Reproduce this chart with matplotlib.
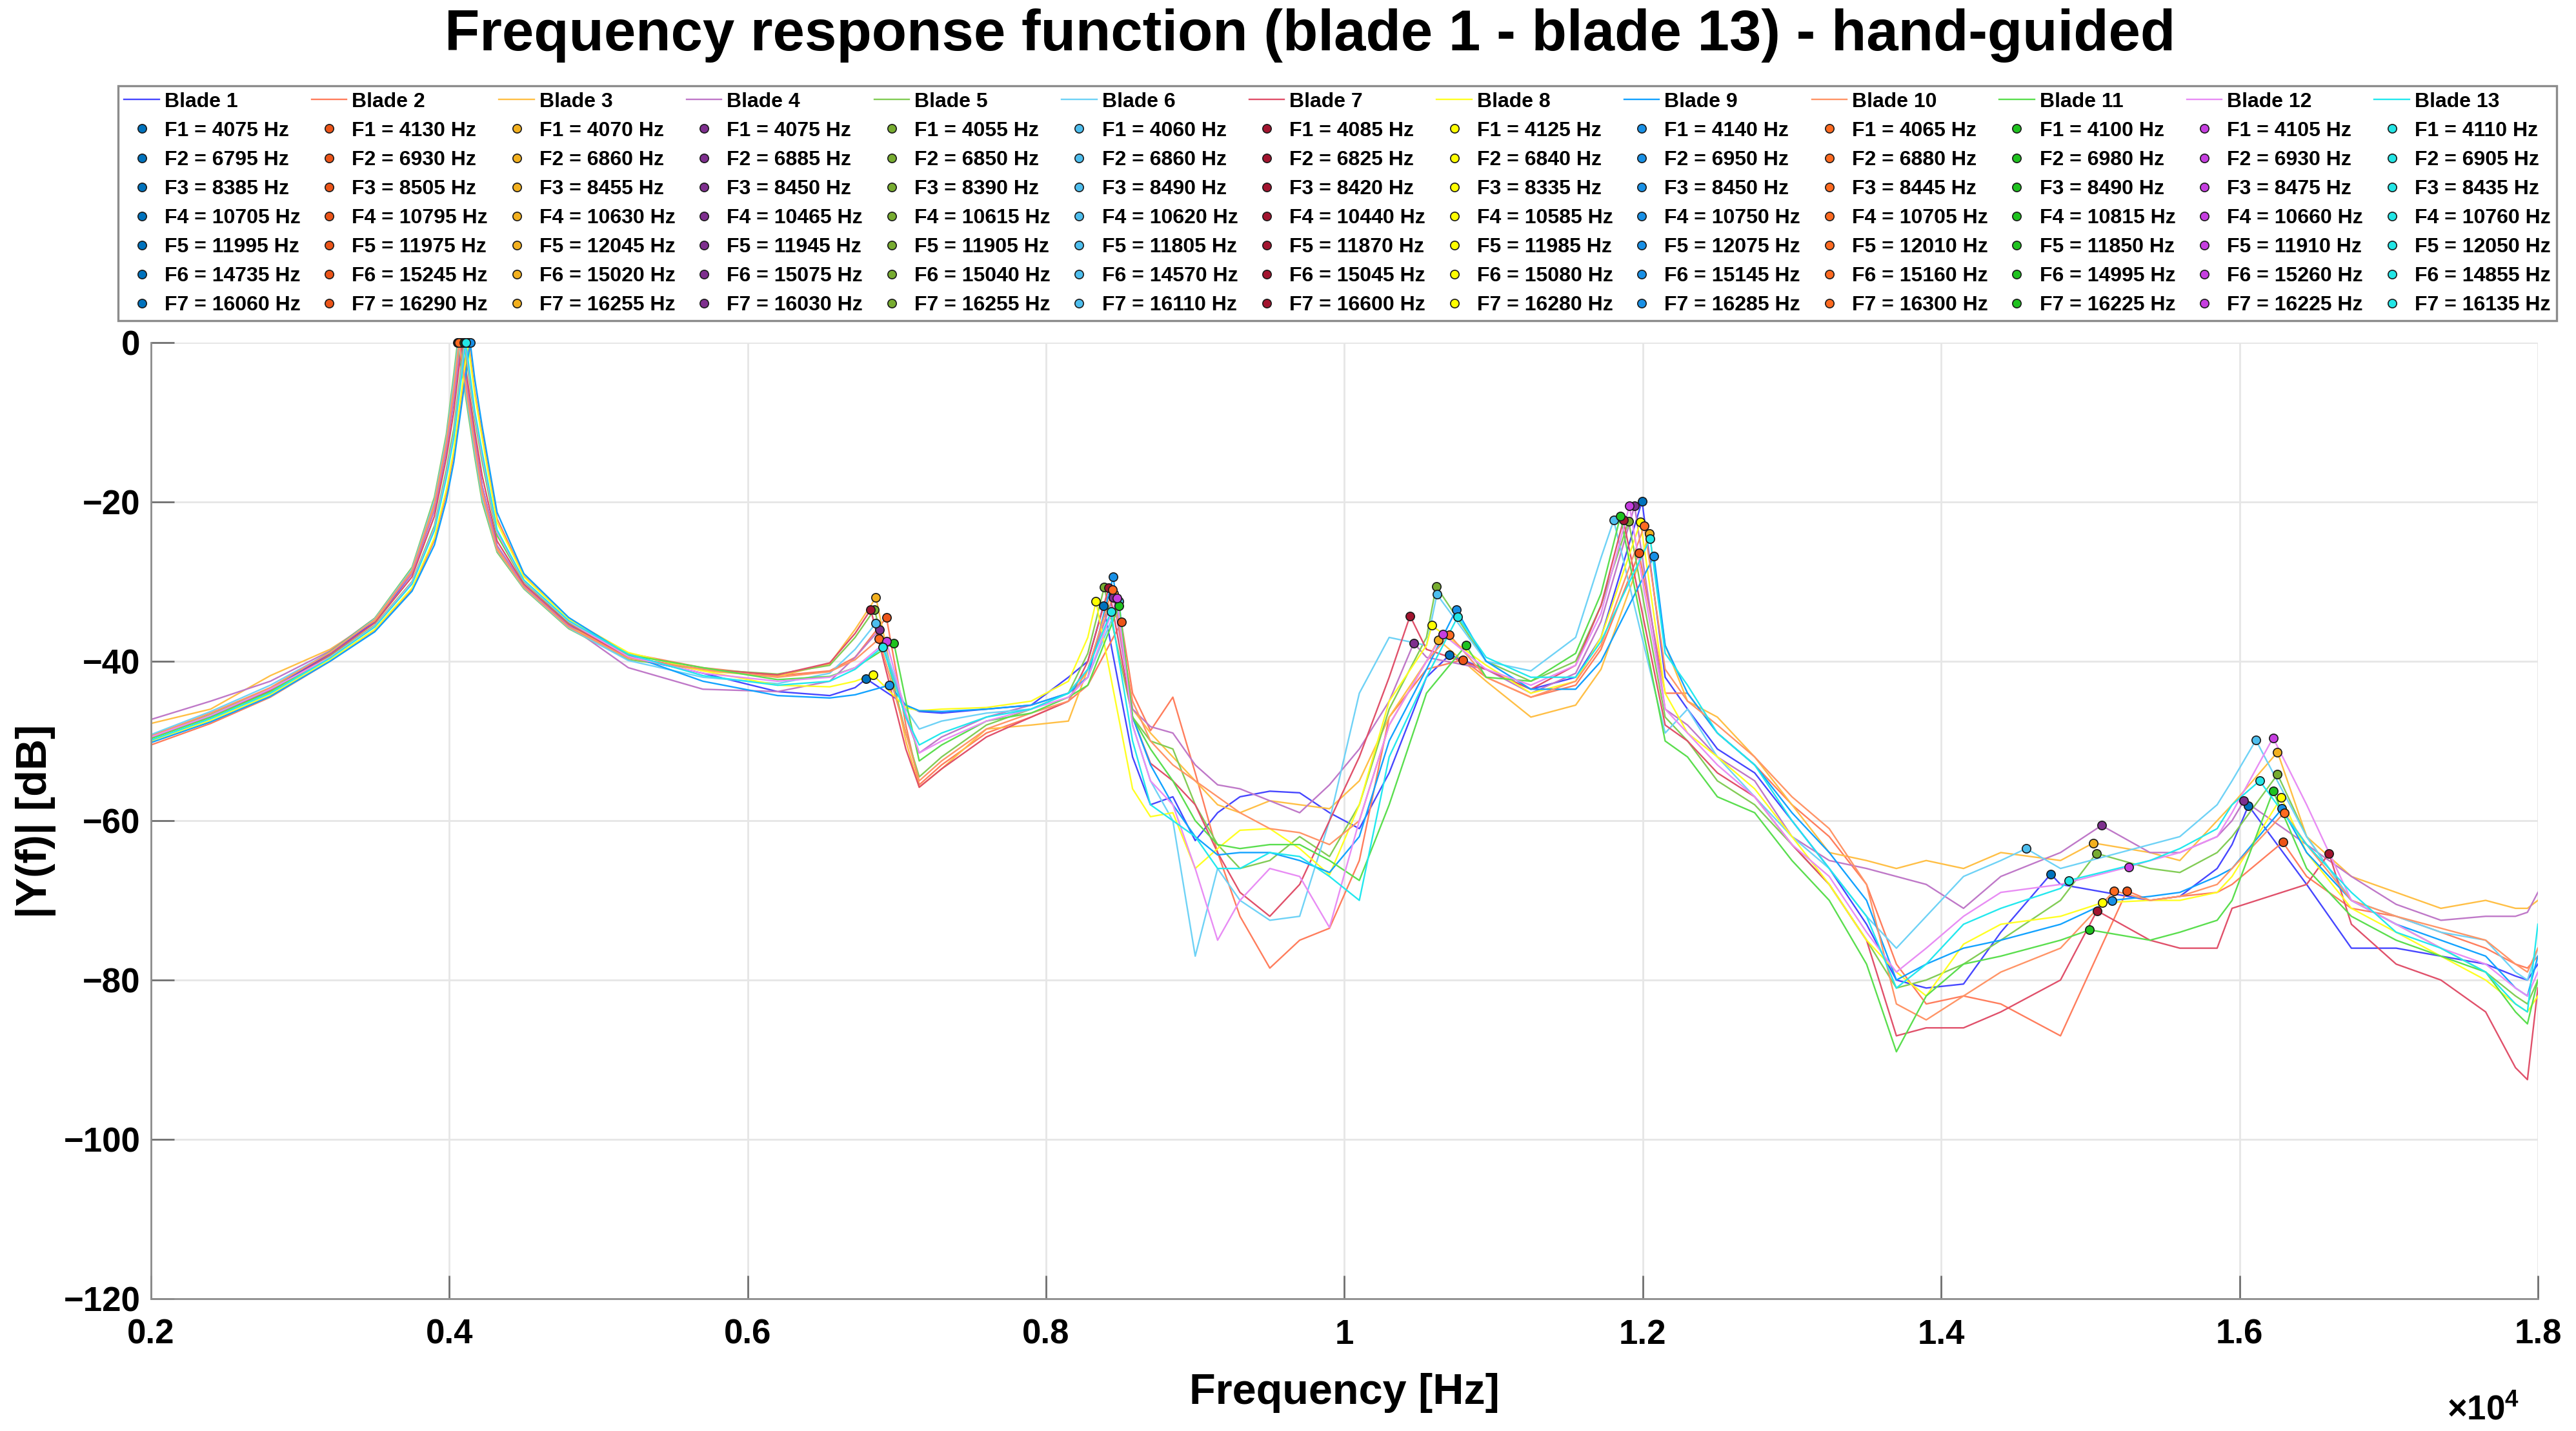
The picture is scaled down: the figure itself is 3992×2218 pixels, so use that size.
import matplotlib
matplotlib.use('Agg')
import matplotlib.pyplot as plt
from matplotlib.ticker import FuncFormatter

plt.rcParams['font.family'] = ['Liberation Sans', 'DejaVu Sans']
plt.rcParams['font.weight'] = 'bold'
plt.rcParams['mathtext.fontset'] = 'custom'
plt.rcParams['mathtext.rm'] = 'Liberation Sans'
plt.rcParams['mathtext.bf'] = 'Liberation Sans:bold'

# frequency points (Hz), shared by all blades
freq_grid = [2000, 2400, 2800, 3200, 3500, 3750, 3900, 3980, 4030,
             4170, 4220, 4320, 4500, 4800, 5200, 5700, 6200, 6550, 6720,
             7060, 7150, 7300, 7600, 7900, 8150, 8280,
             8580, 8700, 8850, 9000, 9150, 9300, 9500, 9700, 9900, 10100, 10300, 10550,
             10950, 11250, 11550, 11720,
             12150, 12300, 12500, 12750, 13000, 13250, 13500, 13700, 13900, 14150, 14400, 14800,
             15400, 15600, 15850, 15950,
             16450, 16750, 17050, 17350, 17650, 17850, 17930, 18000]

# |Y(f)| in dB at freq_grid
blade1_db = [-49.5, -46.8, -43.6, -39, -35, -29, -21, -13.5, -7.2,
             -12, -18, -25.5, -30.5, -35.5, -39.5, -41.5, -43.8, -44.3, -43.3,
             -45.5, -46.3, -46.5, -46, -45.5, -42, -40,
             -52, -58, -57, -62.5, -59, -57, -56.3, -56.5, -59, -61, -54, -42,
             -41, -43.5, -42, -37,
             -42, -46, -51, -54, -60, -66, -73, -80, -81, -80.5, -74, -68,
             -70, -69.5, -66, -63,
             -68, -76, -76, -77, -78, -79.5, -80, -78]
blade2_db = [-50.5, -47.8, -44.5, -40, -36.2, -31, -24.8, -19, -14,
             -6, -11.5, -22.1, -29.3, -34.6, -39, -40.8, -41.8, -41.2, -39.5,
             -48, -55.5, -53, -49, -47, -45, -43,
             -44, -48.7, -44.5, -54, -64, -72, -78.5, -75, -73.5, -65, -47, -41,
             -42, -44.5, -43, -38.5,
             -44, -44, -49, -53, -58, -62, -68, -78, -83, -82, -83, -87,
             -70, -69.5, -69, -68,
             -67, -71, -72, -74, -76, -78, -78.5, -77]
blade3_db = [-47.8, -46, -41.8, -38.5, -34.9, -28.8, -20.6, -13, -6.4,
             -12.5, -18.5, -25.8, -30.6, -35.6, -39.4, -41.2, -41.9, -40.3, -36,
             -50, -55.8, -53.5, -48.5, -48, -47.5, -41,
             -46, -49, -52, -55, -58, -59, -57.5, -58, -58.5, -55, -47, -40,
             -42.5, -47, -45.5, -41,
             -38, -45, -47, -52, -58, -64, -65, -66, -65, -66, -64, -65,
             -64, -65, -60, -58,
             -62, -67, -69, -71, -70, -71, -71, -70]
blade4_db = [-47.3, -45, -42.5, -38.7, -34.6, -29, -21, -13.5, -7.2,
             -12, -18, -25.5, -30.5, -35.5, -40.8, -43.5, -43.8, -42.5, -39.5,
             -47, -51.5, -49.5, -47, -45.5, -44, -41,
             -46, -48.2, -49, -53, -55.5, -56, -57.5, -59, -55.5, -51, -45, -39.5,
             -41, -44, -41.5, -35,
             -46, -48, -52, -55, -62, -65, -66, -67, -68, -71, -67, -64,
             -64, -64, -62, -60,
             -63, -67, -70.5, -72.5, -72, -72, -71.5, -69]
blade5_db = [-49.3, -46.7, -43.4, -38.8, -34.6, -28.2, -19.4, -11.5, -4,
             -14.3, -20, -26.3, -30.9, -35.9, -39.8, -41, -41.6, -40.5, -37,
             -49, -54.5, -52, -48, -46, -44, -39,
             -47, -50, -51, -58, -63, -66, -65, -62, -64.5, -58, -46, -37,
             -40, -42.5, -40, -33,
             -47, -50, -55, -58, -63, -68, -75, -81, -80, -78, -75, -70,
             -66, -66.5, -64, -62,
             -62, -70, -73, -76, -79, -82, -83, -80]
blade6_db = [-49.2, -46.3, -43, -38.9, -34.7, -28.4, -19.8, -12, -4.8,
             -13.7, -19.5, -26.1, -30.8, -35.8, -39.9, -42, -42.8, -41.5, -38.5,
             -46, -48.5, -47.5, -46.5, -46, -44, -42,
             -48, -55, -60, -77, -66, -70, -72.5, -72, -60, -44, -37, -38,
             -40, -41.2, -37, -27,
             -49, -46, -52, -57, -62, -66, -72, -76, -72, -67, -65, -66,
             -63, -62, -58, -55,
             -62, -70, -72, -74, -75, -79, -80, -76]
blade7_db = [-49.6, -47, -43.7, -39.2, -35.2, -29.4, -21.8, -14.5, -8.7,
             -11, -16.7, -24.9, -30.3, -35.3, -39.5, -41, -41.7, -40.2, -36.5,
             -51, -55.8, -53.5, -49.5, -47, -45, -40,
             -47, -52.8, -55, -58, -64, -69, -72, -68, -60, -52, -42, -38.5,
             -41, -43.5, -40.5, -33,
             -48, -50, -54, -57, -63, -68, -75, -87, -86, -86, -84, -80,
             -75, -76, -76, -71,
             -68, -73, -78, -80, -84, -91, -92.5, -81]
blade8_db = [-50, -47.4, -44.2, -39.8, -36, -30.8, -24.5, -18.5, -13.5,
             -6.5, -12, -22.6, -29.4, -34.7, -38.9, -41.2, -43, -43.2, -42.5,
             -45.8, -46.2, -46, -45.8, -45, -42.5, -37,
             -56, -59.5, -59, -66, -63.5, -61.2, -61, -63.5, -66.8, -58, -45, -38,
             -40.5, -44, -42.5, -37,
             -44, -49, -52, -56, -62, -68, -75, -79, -82, -75.5, -73, -72,
             -70, -70, -69, -67,
             -64, -71, -74, -77, -80, -83, -84, -82]
blade9_db = [-50.2, -47.6, -44.4, -40, -36.3, -31.2, -25.4, -19.8, -15,
             -4.5, -10.5, -21.3, -29, -34.5, -39.2, -42.5, -44.3, -44.6, -44.2,
             -45.5, -46.2, -46.3, -46, -45.5, -44, -42,
             -47, -53, -58, -62, -64.3, -64, -64, -65, -66.5, -62, -50, -41,
             -40, -43.5, -43.5, -40,
             -38, -44, -49, -53, -59, -64, -70, -80, -78, -76, -75, -73,
             -69.5, -69, -67, -66,
             -64, -70, -73, -75, -77, -81, -82, -77]
blade10_db = [-49.4, -46.5, -43.3, -38.9, -34.8, -28.6, -20.2, -12.5, -5.6,
              -13, -19, -26, -30.7, -35.7, -39.6, -41, -42, -41.3, -39.8,
              -49, -55, -52.5, -48.5, -46.5, -45, -41,
              -45, -50, -53, -55, -57, -59, -61, -61.5, -63, -60, -48, -40,
              -42, -44.5, -42.5, -38,
              -41, -45, -48, -52, -57, -61, -68, -83, -85, -82, -79, -76,
              -70, -69.5, -68, -66,
              -63, -70, -72, -73.5, -75, -78, -79, -76]
blade11_db = [-49.7, -47, -43.8, -39.4, -35.5, -30, -23, -16, -10.8,
              -9.5, -14.9, -24.2, -30, -35.1, -39.2, -40.8, -42.3, -41.9, -40.8,
              -45, -52.5, -50.5, -47.5, -46.5, -44.5, -43,
              -47, -51, -55, -60, -63, -63.5, -63, -63, -65, -67.5, -58, -44,
              -42, -42.5, -39, -31.5,
              -50, -52, -57, -59, -65, -70, -78, -89, -82, -78, -77, -75,
              -75, -74, -72.5, -70,
              -66, -72, -75, -77, -79, -84, -85.5, -80]
blade12_db = [-49.5, -46.8, -43.5, -39.5, -35.6, -30.1, -23.3, -16.5, -11.5,
              -9, -14.3, -23.8, -29.9, -35, -39.4, -41.5, -42.5, -42, -40.8,
              -46.5, -51.5, -50, -47.5, -46, -44.5, -42,
              -48, -55, -58, -66, -75, -70, -66, -67, -73.4, -60, -48, -40,
              -41, -43, -40.5, -34,
              -46, -49, -53, -57, -63, -67, -74, -79, -76, -72, -69, -68,
              -65, -64, -62, -59,
              -58, -70, -73, -76, -78, -81, -82, -79]
blade13_db = [-49.9, -47.2, -44, -39.6, -35.7, -30.3, -23.6, -17, -12,
              -8.5, -13.7, -23.5, -29.8, -34.9, -39.1, -41.8, -43, -42.5, -41,
              -47, -50.5, -49, -47, -46, -44, -41,
              -50, -58, -60, -62, -66, -66, -64, -64.5, -67, -70, -52, -42,
              -39.5, -42, -42, -37.5,
              -39, -43, -49, -53, -60, -66, -72, -81, -78, -73, -71, -68.5,
              -65, -63.5, -61, -58,
              -63, -69, -74, -76, -79, -83, -84, -73]

# picked resonances F1..F7 (Hz) and their levels (dB)
blade1_peak_hz = [4075, 6795, 8385, 10705, 11995, 14735, 16060]
blade1_peak_db = [0, -42.2, -33, -39.2, -19.9, -66.7, -58.1]
blade2_peak_hz = [4130, 6930, 8505, 10795, 11975, 15245, 16290]
blade2_peak_db = [0, -34.5, -35.1, -39.8, -26.4, -68.8, -62.7]
blade3_peak_hz = [4070, 6860, 8455, 10630, 12045, 15020, 16255]
blade3_peak_db = [0, -32, -31.5, -37.3, -24, -62.8, -51.4]
blade4_peak_hz = [4075, 6885, 8450, 10465, 11945, 15075, 16030]
blade4_peak_db = [0, -36, -32, -37.7, -20.5, -60.6, -57.5]
blade5_peak_hz = [4055, 6850, 8390, 10615, 11905, 15040, 16255]
blade5_peak_db = [0, -33.5, -30.7, -30.6, -22.4, -64.1, -54.2]
blade6_peak_hz = [4060, 6860, 8490, 10620, 11805, 14570, 16110]
blade6_peak_db = [0, -35.2, -32.5, -31.6, -22.3, -63.5, -49.9]
blade7_peak_hz = [4085, 6825, 8420, 10440, 11870, 15045, 16600]
blade7_peak_db = [0, -33.5, -30.8, -34.3, -22.3, -71.3, -64.1]
blade8_peak_hz = [4125, 6840, 8335, 10585, 11985, 15080, 16280]
blade8_peak_db = [0, -41.7, -32.5, -35.5, -22.5, -70.3, -57.1]
blade9_peak_hz = [4140, 6950, 8450, 10750, 12075, 15145, 16285]
blade9_peak_db = [0, -43, -29.4, -33.5, -26.8, -70, -58.5]
blade10_peak_hz = [4065, 6880, 8445, 10705, 12010, 15160, 16300]
blade10_peak_db = [0, -37.2, -31, -36.7, -23, -68.8, -59]
blade11_peak_hz = [4100, 6980, 8490, 10815, 11850, 14995, 16225]
blade11_peak_db = [0, -37.7, -33, -38, -21.8, -73.7, -56.3]
blade12_peak_hz = [4105, 6930, 8475, 10660, 11910, 15260, 16225]
blade12_peak_db = [0, -37.5, -32.1, -36.6, -20.5, -65.8, -49.6]
blade13_peak_hz = [4110, 6905, 8435, 10760, 12050, 14855, 16135]
blade13_peak_db = [0, -38.2, -33.8, -34.4, -24.6, -67.5, -55]

blade_db = [blade1_db, blade2_db, blade3_db, blade4_db, blade5_db, blade6_db, blade7_db,
            blade8_db, blade9_db, blade10_db, blade11_db, blade12_db, blade13_db]
peak_hz = [blade1_peak_hz, blade2_peak_hz, blade3_peak_hz, blade4_peak_hz, blade5_peak_hz,
           blade6_peak_hz, blade7_peak_hz, blade8_peak_hz, blade9_peak_hz, blade10_peak_hz,
           blade11_peak_hz, blade12_peak_hz, blade13_peak_hz]
peak_db = [blade1_peak_db, blade2_peak_db, blade3_peak_db, blade4_peak_db, blade5_peak_db,
           blade6_peak_db, blade7_peak_db, blade8_peak_db, blade9_peak_db, blade10_peak_db,
           blade11_peak_db, blade12_peak_db, blade13_peak_db]

line_colors = ['#4646ff', '#ff7d5c', '#ffbf45', '#bf78c8', '#82cc55', '#6ed2f6', '#e0506a',
               '#ffff22', '#12a2ff', '#ff9466', '#5ade4e', '#e88cf4', '#22e8ee']
marker_colors = ['#0072bd', '#ec5418', '#f2b01e', '#7e2f8e', '#77ac30', '#4dbeee', '#a2142f',
                 '#ffff00', '#1890e6', '#ff6a20', '#1fc21f', '#c63ee0', '#22e6e6']

fig = plt.figure(figsize=(19.96, 11.09), dpi=200)
ax = fig.add_axes([0.0586, 0.0924, 0.9266, 0.6682])

handles = []
labels = []
for i in range(13):
    pts = sorted(zip(freq_grid + peak_hz[i], blade_db[i] + peak_db[i]))
    f = [p[0] for p in pts]
    d = [p[1] for p in pts]
    ln, = ax.plot(f, d, color=line_colors[i], lw=0.85)
    handles.append(ln)
    labels.append('Blade %d' % (i + 1))
    for k in range(7):
        mk, = ax.plot([peak_hz[i][k]], [peak_db[i][k]], ls='none', marker='o', ms=4.8,
                      mfc=marker_colors[i], mec='#1a1a1a', mew=0.6, clip_on=False, zorder=3)
        handles.append(mk)
        labels.append('F%d = %d Hz' % (k + 1, peak_hz[i][k]))

ax.set_xlim(2000, 18000)
ax.set_ylim(-120, 0)
ax.set_xticks(range(2000, 18001, 2000))
ax.set_yticks(range(-120, 1, 20))
ax.xaxis.set_major_formatter(FuncFormatter(lambda v, p: '%g' % (v / 1e4)))
ax.grid(True, color='#e6e6e6', lw=1.0)
ax.set_axisbelow(True)
for s in ['top', 'right']:
    ax.spines[s].set_visible(False)
for s in ['left', 'bottom']:
    ax.spines[s].set_color('#8c8c8c')
    ax.spines[s].set_linewidth(1.0)
ax.tick_params(direction='in', length=13, width=1.0, color='#707070', labelsize=19)
ax.tick_params(axis='x', pad=11)
ax.tick_params(axis='y', pad=6)
for t in ax.get_xticklabels() + ax.get_yticklabels():
    t.set_fontweight('bold')

fig.text(0.5085, 0.975, 'Frequency response function (blade 1 - blade 13) - hand-guided',
         ha='center', va='center', fontsize=32, fontweight='bold')
fig.text(0.5218, 0.0266, 'Frequency [Hz]', ha='center', va='center',
         fontsize=24, fontweight='bold')
fig.text(0.014, 0.426, '|Y(f)| [dB]', ha='center', va='center', rotation=90,
         fontsize=24, fontweight='bold')
fig.text(0.978, 0.008, r'$\times\mathbf{10}^{\mathbf{4}}$', ha='right', va='baseline',
         fontsize=19)

leg = fig.legend(handles, labels, ncol=13, loc='upper left',
                 bbox_to_anchor=(0.0458, 0.782, 0.9467, 0.158), mode='expand',
                 fontsize=11.5, fancybox=False, edgecolor='#8c8c8c', framealpha=1,
                 handlelength=1.7, handletextpad=0.25, columnspacing=0.2,
                 labelspacing=0.47, borderpad=0.3, markerscale=1.0, borderaxespad=0)
leg.get_frame().set_linewidth(1.2)
for t in leg.get_texts():
    t.set_fontweight('bold')

fig.savefig('out.png', dpi=200)
